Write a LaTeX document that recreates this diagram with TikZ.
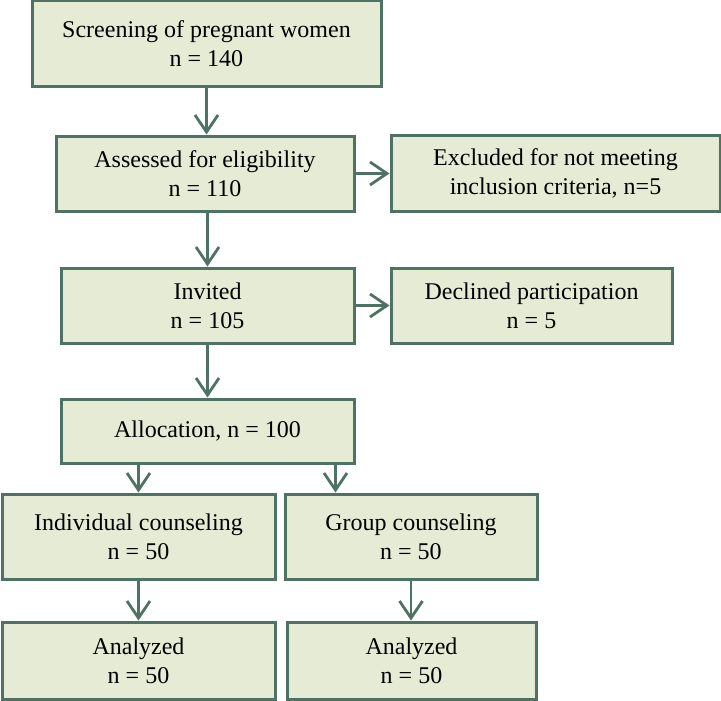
\documentclass[tikz,border=0pt]{standalone}
\usepackage{fontspec}
\setmainfont{Liberation Serif}
\usetikzlibrary{arrows.meta}
\definecolor{boxfill}{HTML}{E6EBD5}
\definecolor{boxline}{HTML}{4E7264}
\begin{document}
\begin{tikzpicture}[x=1pt,y=-1pt,
  box/.style={draw=boxline, fill=boxfill, line width=3pt, align=center,
    inner sep=0pt, font=\fontsize{24}{29}\selectfont},
  conn/.style={draw=boxline, line width=2.8pt,
    -{Straight Barb[length=17pt,width=23pt]}}]
\useasboundingbox (0,0) rectangle (721,701);

\node[box, minimum width=349pt, minimum height=86pt] (scr) at (206.5,44)
  {Screening of pregnant women\\n = 140};
\node[box, minimum width=298pt, minimum height=75pt] (ass) at (205,173.5)
  {Assessed for eligibility\\n = 110};
\node[box, minimum width=329pt, minimum height=76pt] (exc) at (555.5,173)
  {Excluded for not meeting\\inclusion criteria, n=5};
\node[box, minimum width=293pt, minimum height=75pt] (inv) at (207.5,305.5)
  {Invited\\n = 105};
\node[box, minimum width=281pt, minimum height=75pt] (dec) at (531.5,305.5)
  {Declined participation\\n = 5};
\node[box, minimum width=293pt, minimum height=64pt] (alc) at (207.5,431)
  {Allocation, n = 100};
\node[box, minimum width=273pt, minimum height=85pt] (ind) at (138.5,536.5)
  {Individual counseling\\n = 50};
\node[box, minimum width=252pt, minimum height=85pt] (grp) at (411,536.5)
  {Group counseling\\n = 50};
\node[box, minimum width=273pt, minimum height=77pt] (an1) at (138.5,660.5)
  {Analyzed\\n = 50};
\node[box, minimum width=249pt, minimum height=77pt] (an2) at (411.5,660.5)
  {Analyzed\\n = 50};

\draw[conn] (scr.south) -- (scr.south |- ass.north);
\draw[conn] (inv.north |- ass.south) -- (inv.north);
\draw[conn] (inv.south) -- (alc.north);
\draw[conn] (ind.north |- alc.south) -- (ind.north);
\draw[conn] ([xshift=-20pt]alc.south east) -- ([xshift=-20pt]alc.south east |- grp.north);
\draw[conn] (ind.south) -- (an1.north);
\draw[conn] (grp.south) -- (grp.south |- an2.north);
\draw[conn] (ass.east) -- (exc.west |- ass.east);
\draw[conn] (inv.east) -- (dec.west);
\end{tikzpicture}
\end{document}
